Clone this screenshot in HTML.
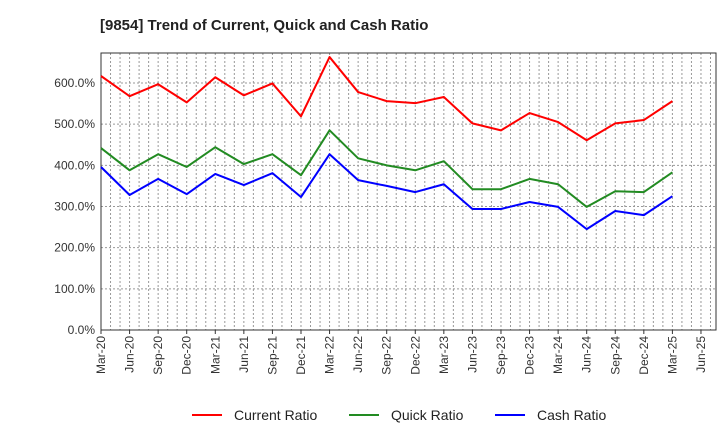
<!DOCTYPE html>
<html><head><meta charset="utf-8"><style>
body{margin:0;background:#fff;font-family:"Liberation Sans",sans-serif}
</style></head><body>
<svg id="chart" width="720" height="440"></svg>
<script>
const categories=["Mar-20","Jun-20","Sep-20","Dec-20","Mar-21","Jun-21","Sep-21","Dec-21","Mar-22","Jun-22","Sep-22","Dec-22","Mar-23","Jun-23","Sep-23","Dec-23","Mar-24","Jun-24","Sep-24","Dec-24","Mar-25","Jun-25"];
const currentRatio=[617,568,597,553,614,570,599,519,663,578,556,551,566,502,485,527,505,461,502,510,556];
const quickRatio=[442,388,427,396,444,403,427,376,485,417,400,388,410,342,342,367,354,299,337,335,383];
const cashRatio=[396,328,367,330,379,352,381,323,427,364,350,335,354,294,294,311,299,245,289,279,325];
const yTicks=[0,100,200,300,400,500,600];
const yTickLabels=["0.0%","100.0%","200.0%","300.0%","400.0%","500.0%","600.0%"];

const NS="http://www.w3.org/2000/svg";
const svg=document.getElementById('chart');
const L=101,R=716,T=53,B=330,qW=28.57;
const xs=i=>L+i*qW;
const ys=v=>B-v*(B-83)/600;
function mk(tag,attrs,parent){const e=document.createElementNS(NS,tag);for(const k in attrs)e.setAttribute(k,attrs[k]);(parent||svg).appendChild(e);return e;}

const title=mk('text',{x:100,y:30,'font-size':15,'font-weight':'bold',fill:'#222'});
title.textContent="[9854]  Trend of Current, Quick and Cash Ratio";



const grid=mk('g',{});


for(let m=1;(L+m*qW/3)<R;m++){const x=L+m*qW/3;mk('line',{x1:x,x2:x,y1:T,y2:B,stroke:'#999','stroke-dasharray':'2,2','stroke-width':1},grid);}
yTicks.forEach((v,i)=>{
  const y=ys(v);
  if(v>0)mk('line',{x1:L,x2:R,y1:y,y2:y,stroke:'#999','stroke-dasharray':'2,2'},grid);
  const t=mk('text',{x:L-6,y:y+4,'text-anchor':'end','font-size':12,fill:'#333'});
  t.textContent=yTickLabels[i];
  
  
});
mk('rect',{x:L,y:T,width:R-L,height:B-T,fill:'none',stroke:'#333','stroke-width':1});

categories.forEach((c,i)=>{
  const x=xs(i);
  mk('line',{x1:x,x2:x,y1:B,y2:B+4,stroke:'#333'});
  const t=mk('text',{transform:`translate(${x+4},${B+6}) rotate(-90)`,'text-anchor':'end','font-size':12,fill:'#333'});
  t.textContent=c;
  
  
});

function line(data,color,name){
  const p=mk('polyline',{points:data.map((v,i)=>xs(i)+','+ys(v)).join(' '),fill:'none',stroke:color,'stroke-width':2,'stroke-linejoin':'round'});
  
  
}
line(currentRatio,'#ff0000','current-ratio-line');
line(quickRatio,'#228b22','quick-ratio-line');
line(cashRatio,'#0000ff','cash-ratio-line');

const legend=[["Current Ratio","#ff0000",192],["Quick Ratio","#228b22",349],["Cash Ratio","#0000ff",495]];
legend.forEach(([n,c,x])=>{
  const g=mk('g',{});
  
  
  mk('line',{x1:x,x2:x+30,y1:415,y2:415,stroke:c,'stroke-width':2},g);
  const t=mk('text',{x:x+42,y:420,'font-size':14,fill:'#222'},g);
  t.textContent=n;
});
</script>
</body></html>
